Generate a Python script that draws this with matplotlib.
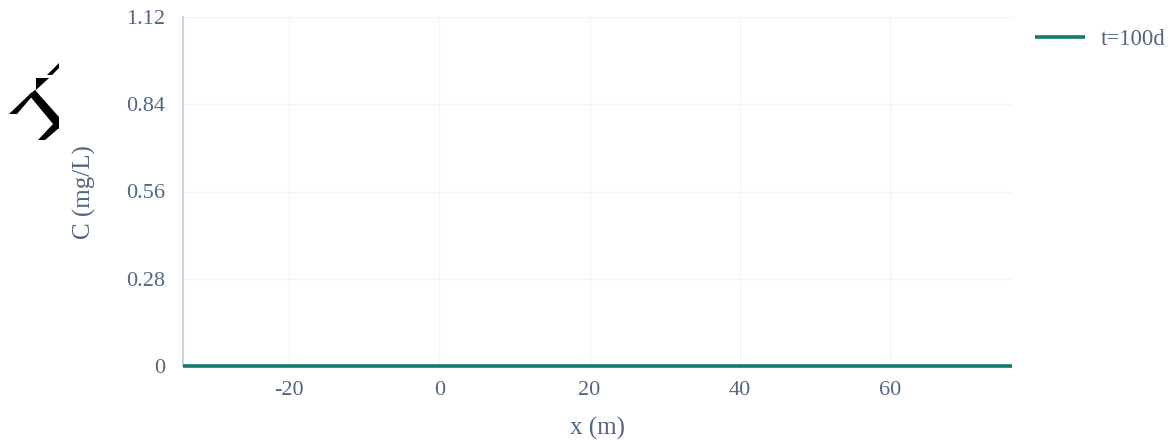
import matplotlib.pyplot as plt
from matplotlib.patches import Polygon
from matplotlib.transforms import Affine2D

W, H = 1175, 441

x_values = [-34.1, 76.2]
c_values = [0, 0]
x_ticks = [-20, 0, 20, 40, 60]
x_labels = ['-20', '0', '20', '40', '60']
y_ticks = [0, 0.28, 0.56, 0.84, 1.12]
y_labels = ['0', '0.28', '0.56', '0.84', '1.12']
series_name = 't=100d'

TEXT = '#506784'
GRID = '#f1f4f8'
AXIS = '#c8d4e3'
LINE = '#147a6c'

# broken glyph top left, in pixels of the picture
glyph_parts = [
    [(47, 75), (59, 63), (59, 68), (52, 75)],
    [(36, 78), (49, 78), (36, 90)],
    [(9, 114), (31, 93), (36, 90), (36, 92), (17, 114)],
    [(29, 95), (35, 90), (59, 117), (59, 129), (53, 124)],
    [(38, 140), (53, 124), (59, 128), (45, 140)],
]

plt.rcParams['font.family'] = ['Liberation Serif', 'DejaVu Sans']

fig = plt.figure(figsize=(W / 100, H / 100), dpi=100)
ax = fig.add_axes([183 / W, 1 - 366 / H, (1012 - 183) / W, (366 - 17) / H])

ax.plot(x_values, c_values, color=LINE, lw=2.6, label=series_name,
        clip_on=False, solid_capstyle='butt', zorder=5)

ax.set_xlim(x_values[0], x_values[1])
ax.set_ylim(0, 1.12)
ax.set_xticks(x_ticks, x_labels)
ax.set_yticks(y_ticks, y_labels)
ax.grid(True, color=GRID, lw=0.9)
ax.set_axisbelow(True)
ax.tick_params(length=0, labelsize=16, labelcolor=TEXT, pad=13)
ax.tick_params(axis='x', pad=11)

for side in ['top', 'right', 'bottom']:
    ax.spines[side].set_visible(False)
ax.spines['left'].set_color(AXIS)
ax.spines['left'].set_linewidth(1.5)

ax.set_xlabel('x (m)', fontsize=18, color=TEXT, va='center')
ax.xaxis.set_label_coords((597 - 183) / (1012 - 183), -(428 - 366) / (366 - 17))
ax.set_ylabel('C (mg/L)', fontsize=18, color=TEXT, va='center')
ax.yaxis.set_label_coords(-(183 - 84) / (1012 - 183), (366 - 192) / (366 - 17))

ax.legend(loc='upper left', bbox_to_anchor=(1035 / W, 1 - 28.5 / H),
          bbox_transform=fig.transFigure, frameon=False, fontsize=16.5,
          labelcolor=TEXT, handlelength=2.2, handletextpad=0.65,
          borderpad=0, borderaxespad=0)

to_fig = Affine2D().scale(1, -1).translate(0, H)
for part in glyph_parts:
    fig.add_artist(Polygon(part, closed=True, facecolor='black', edgecolor='none',
                           transform=to_fig))

fig.savefig('out.png', dpi=100)
